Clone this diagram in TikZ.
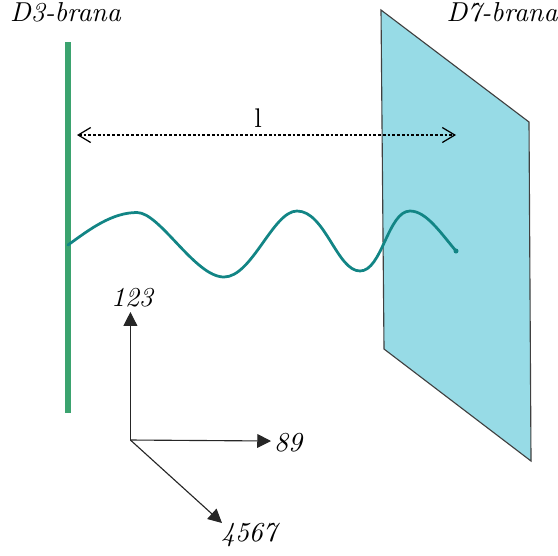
\documentclass[tikz,border=0pt]{standalone}
\usepackage{xcolor}
\usetikzlibrary{arrows.meta,calc}
\definecolor{branecyan}{HTML}{97DBE6}
\definecolor{branegreen}{HTML}{3BA36F}
\definecolor{stringteal}{HTML}{128585}
\tikzset{
  lbl/.style    ={inner sep=0pt, font=\fontencoding{OT1}\fontfamily{cmr}\fontsize{10.8}{13}\selectfont\itshape},
  axis/.style   ={-{Triangle[length=5.5pt,width=5.5pt]}, line width=0.45pt, draw=black!85},
  sep/.style    ={{Straight Barb[length=5pt,width=6pt]}-{Straight Barb[length=5pt,width=6pt]},
                  dash pattern=on 1.1pt off 0.8pt, line width=0.5pt},
}

\begin{document}
\begin{tikzpicture}[x=0.4pt,y=-0.4pt]
  \useasboundingbox (0,0) rectangle (558,555);

  % D7 plane
  \filldraw[fill=branecyan, draw=black!75, line width=0.45pt] (381,10) -- (529,122) -- (531,461) -- (384,349) -- cycle;

  % D3 bar
  \coordinate (d3top) at (68,42);
  \coordinate (d3bot) at (68,413);
  \draw[branegreen, line width=2.3pt] (d3top) -- (d3bot);

  % labels
  \node[lbl] (d3) at (65.5,12) {D3-brana};
  \node[lbl] (d7) at (502,15) {D7-brana};

  % separation
  \coordinate (sepL) at (77,135);
  \coordinate (sepR) at (456,135);
  \draw[sep] (sepL) -- (sepR);
  \node[inner sep=0pt, font=\fontsize{10.8}{13}\selectfont] (sepl) at (258,118) {l};

  % open string
  \coordinate (strA) at (68,245);
  \coordinate (strB) at (456,251);
  \draw[stringteal, line width=1.1pt, line cap=round] (strA)
    .. controls (90,229) and (112,212.5) .. (137,212.5)
    .. controls (160,212.5) and (195,277) .. (224,277)
    .. controls (252,277) and (273,211) .. (297,211)
    .. controls (325,211) and (337,271) .. (360,271)
    .. controls (382,271) and (388,211) .. (410,211)
    .. controls (426,211) and (440,232) .. (strB);
  \fill[stringteal] (strB) circle (2.5);

  % axes
  \coordinate (orig) at (130.4,440);
  \coordinate (tip123) at (130.4,312);
  \coordinate (tip89) at (271,441);
  \coordinate (tip4567) at (222,523);
  \node[lbl] (n123) at (132,298) {123};
  \node[lbl] (n89) at (288,443) {89};
  \node[lbl] (n4567) at (249,535) {4567};
  \draw[axis] (orig) -- (tip123);
  \draw[axis] (orig) -- (tip89);
  \draw[axis] (orig) -- (tip4567);
\end{tikzpicture}
\end{document}
